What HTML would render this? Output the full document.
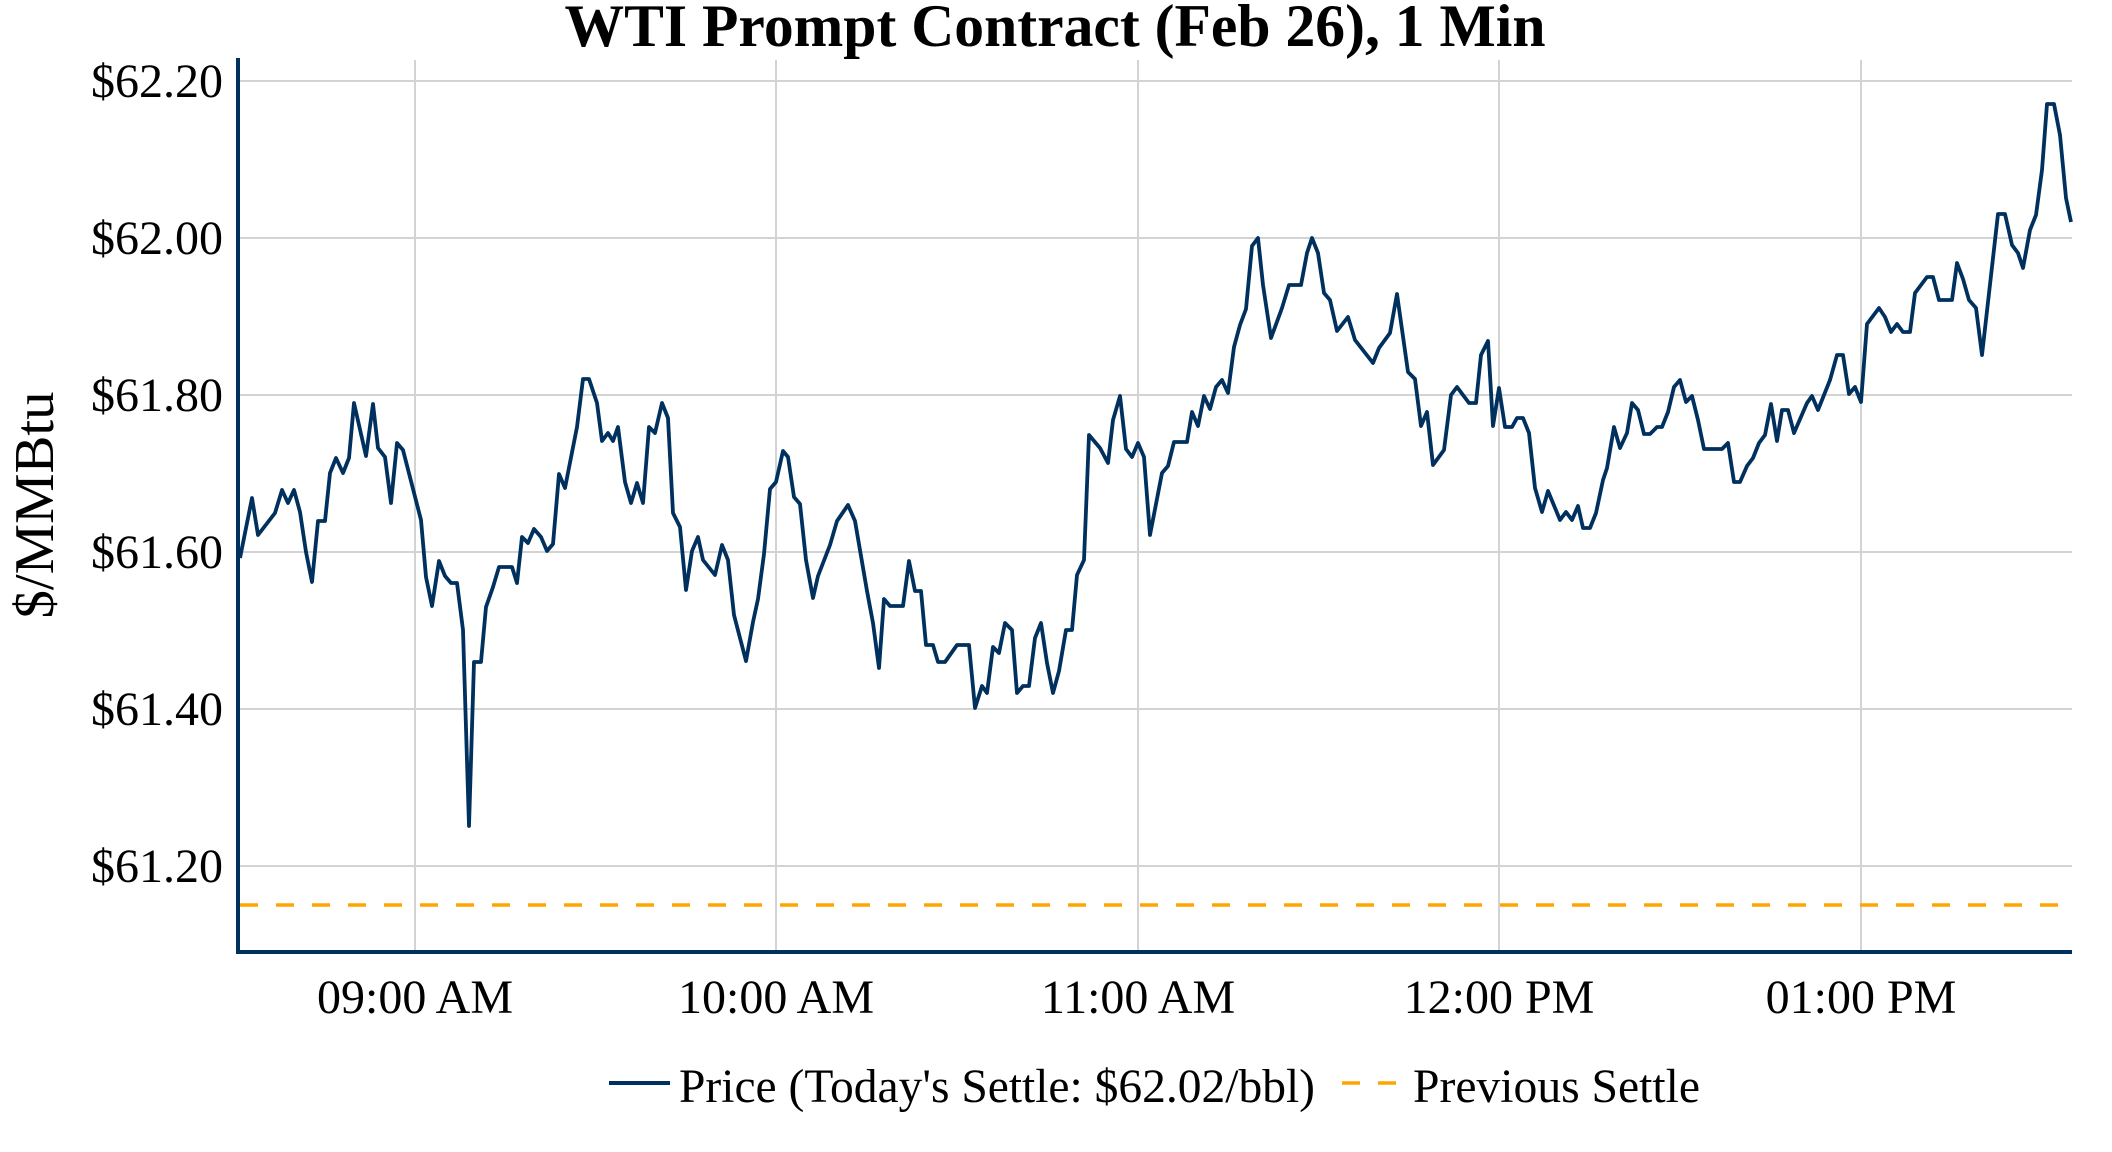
<!DOCTYPE html>
<html><head><meta charset="utf-8"><style>html,body{margin:0;padding:0;background:#fff}svg{display:block}</style></head>
<body>
<svg width="2112" height="1152" viewBox="0 0 2112 1152" xmlns="http://www.w3.org/2000/svg" font-family="'Liberation Serif', 'Times New Roman', serif">
<rect width="2112" height="1152" fill="#fff"/>
<g stroke="#d3d3d3" stroke-width="2">
<line x1="238" y1="81" x2="2072" y2="81"/>
<line x1="238" y1="238" x2="2072" y2="238"/>
<line x1="238" y1="395" x2="2072" y2="395"/>
<line x1="238" y1="552" x2="2072" y2="552"/>
<line x1="238" y1="709" x2="2072" y2="709"/>
<line x1="238" y1="866" x2="2072" y2="866"/>
<line x1="415" y1="60" x2="415" y2="952"/>
<line x1="776" y1="60" x2="776" y2="952"/>
<line x1="1138" y1="60" x2="1138" y2="952"/>
<line x1="1499" y1="60" x2="1499" y2="952"/>
<line x1="1861" y1="60" x2="1861" y2="952"/>
</g>
<line x1="240" y1="905" x2="2072" y2="905" stroke="#FFA500" stroke-width="3.5" stroke-dasharray="18,18"/>
<polyline fill="none" stroke="#00305e" stroke-width="3.8" stroke-linejoin="round" points="
240,558 252,498 258,535 275,513 282,490 288,503 294,490 300,512 306,552 312,582 318,521 325,521 330,473 336,458 343,473 349,458 354,403 366,456 373,404 378,448 385,457 391,503 397,443 403,450 421,520 426,577 432,606 439,561 445,576 451,583 457,583 463,630 469,826 474,662 481,662 486,607 493,587 499,567 512,567 517,583 522,537 528,543 534,529 541,537 547,551 553,544 559,474 565,488 577,427 583,379 589,379 597,403 602,441 608,433 613,441 618,427 625,482 631,503
637,483 643,503 649,427 655,433 662,403 668,418 673,513 680,527 686,590 692,551 698,537 703,560 715,575 722,545 728,560 734,615 746,661 753,622 758,599 764,554 770,489 776,482 783,451 788,457 794,497 800,504 806,560 813,598 818,576 830,545 837,521 848,505 855,521 867,591 873,623 879,668 884,599 890,606 903,606 909,561 915,591 921,591 926,645 933,645 938,662 945,662 957,645 969,645 975,708 982,686 987,693 993,647 999,653 1005,623 1012,630 1017,693 1023,686 1029,686 1035,638 1041,623 1047,663 1053,693 1059,671 1066,630 1072,630 1077,575 1084,560 1089,435 1100,448 1108,463 1113,420 1120,396
1126,449 1132,457 1138,443 1144,457 1150,535 1162,473 1168,466 1174,442 1187,442 1192,412 1198,426 1204,396 1210,409 1216,387 1222,380 1228,393 1234,347 1240,325 1246,309 1252,246 1258,238 1263,285 1271,338 1282,308 1289,285 1301,285 1307,253 1312,238 1318,253 1324,293 1330,300 1337,331 1348,317 1355,340 1373,363 1379,348 1390,333 1397,294 1408,372 1415,379 1421,426 1427,412 1433,465 1444,450 1451,395 1457,387 1469,403 1476,403 1481,355 1488,341 1493,426 1499,388 1505,427 1512,427 1517,418 1523,418 1529,433 1535,488 1542,512 1548,491 1560,520 1566,512 1572,520 1578,506 1583,528 1590,528 1596,513 1603,480
1607,468 1614,427 1620,448 1627,433 1632,403 1638,410 1644,434 1650,434 1657,427 1662,427 1668,412 1674,387 1680,380 1686,402 1692,396 1698,420 1704,449 1722,449 1728,443 1734,482 1740,482 1747,466 1753,458 1759,443 1765,435 1771,404 1777,441 1782,410 1788,410 1794,433 1807,403 1812,396 1818,410 1830,380 1837,355 1843,355 1849,394 1855,387 1861,402 1867,324 1879,308 1885,317 1891,332 1897,324 1903,332 1910,332 1915,293 1927,277 1933,277 1939,300 1952,300 1957,263 1963,279 1969,300 1976,308 1982,355 1998,214 2005,214 2012,245 2018,253 2023,268 2030,230 2036,215 2042,170 2047,104 2054,104 2060,135 2066,198 2071,222"/>
<line x1="238" y1="58" x2="238" y2="954" stroke="#00305e" stroke-width="4"/>
<line x1="236" y1="952" x2="2072" y2="952" stroke="#00305e" stroke-width="4"/>
<g font-size="48" fill="#000" text-anchor="end">
<text x="223" y="97">$62.20</text>
<text x="223" y="254">$62.00</text>
<text x="223" y="411">$61.80</text>
<text x="223" y="568">$61.60</text>
<text x="223" y="725">$61.40</text>
<text x="223" y="882">$61.20</text>
</g>
<g font-size="48" fill="#000" text-anchor="middle">
<text x="415" y="1013">09:00 AM</text>
<text x="776" y="1013">10:00 AM</text>
<text x="1138" y="1013">11:00 AM</text>
<text x="1499" y="1013">12:00 PM</text>
<text x="1861" y="1013">01:00 PM</text>
</g>
<text x="1055" y="46" font-size="60" font-weight="bold" text-anchor="middle" textLength="981" lengthAdjust="spacingAndGlyphs">WTI Prompt Contract (Feb 26), 1 Min</text>
<text transform="translate(53,505) rotate(-90)" font-size="56" text-anchor="middle" textLength="227" lengthAdjust="spacingAndGlyphs">$/MMBtu</text>
<line x1="609" y1="1083" x2="670" y2="1083" stroke="#00305e" stroke-width="4"/>
<text x="679" y="1102" font-size="48" textLength="636" lengthAdjust="spacingAndGlyphs">Price (Today's Settle: $62.02/bbl)</text>
<line x1="1342" y1="1083" x2="1396" y2="1083" stroke="#FFA500" stroke-width="3.5" stroke-dasharray="18,18"/>
<text x="1413" y="1102" font-size="48" textLength="287" lengthAdjust="spacingAndGlyphs">Previous Settle</text>
</svg>
</body></html>
